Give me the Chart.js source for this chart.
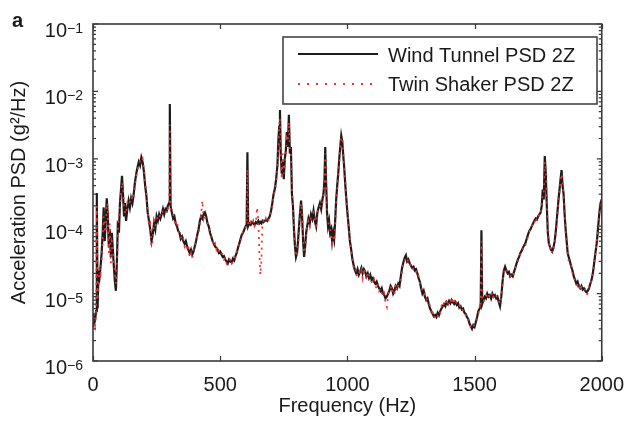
<!DOCTYPE html>
<html lang="en">
<head>
<meta charset="UTF-8">
<title>PSD comparison</title>
<script src="https://cdn.jsdelivr.net/npm/chart.js"></script>
<style>
    body { margin: 0; padding: 0; background: #fff; }
    #wrap { position: relative; width: 636px; height: 434px; }
</style>
</head>
<body>
<div id="wrap">
    <canvas id="psdChart" width="636" height="434"></canvas>
</div>
<script>
// frequency points (Hz)
const freq = [
    0, 4, 8, 12, 15, 18, 22, 26, 30, 34, 38, 42, 46, 50, 54, 58, 62, 66, 70, 74, 78, 82, 86, 90, 94, 98,
    102, 106, 110, 114, 118, 122, 126, 130, 135, 140, 145, 150, 155, 160, 165, 170, 175, 180, 185, 190, 195,
    200, 205, 210, 215, 220, 225, 230, 235, 240, 245, 250, 255, 260, 265, 270, 275, 280, 285, 290, 294, 299,
    302, 305, 310, 315, 320, 325, 330, 335, 340, 345, 350, 355, 360, 365, 370, 375, 380, 385, 390, 395,
    400, 405, 410, 415, 420, 425, 430, 435, 440, 445, 450, 455, 460, 465, 470, 475, 480, 485, 490, 495,
    500, 505, 510, 515, 520, 525, 530, 535, 540, 545, 550, 555, 560, 565, 570, 575, 580, 585, 590, 595,
    600, 604, 607, 610, 615, 620, 625, 630, 635, 640, 645, 650, 654, 658, 662, 666, 670, 675, 680, 685, 690, 695,
    700, 705, 710, 715, 720, 725, 729, 732, 735, 738, 742, 746, 750, 754, 758, 762, 766, 770, 774, 778, 782, 786, 790, 794, 798,
    802, 806, 810, 814, 818, 822, 826, 830, 834, 838, 842, 847, 852, 857, 862, 867, 872, 877, 882, 887, 892, 897,
    902, 906, 910, 913, 916, 920, 924, 928, 932, 936, 940, 944, 948, 952, 956, 960, 964, 968, 972, 976, 980, 984, 988, 992, 996,
    1000, 1005, 1010, 1015, 1020, 1025, 1030, 1035, 1040, 1045, 1050, 1055, 1060, 1065, 1070, 1075, 1080, 1085, 1090, 1095,
    1100, 1105, 1110, 1115, 1120, 1125, 1130, 1135, 1140, 1145, 1150, 1155, 1160, 1165, 1170, 1175, 1180, 1185, 1190, 1195,
    1200, 1205, 1210, 1215, 1220, 1225, 1230, 1235, 1240, 1245, 1250, 1255, 1260, 1265, 1270, 1275, 1280, 1285, 1290, 1295,
    1300, 1305, 1310, 1315, 1320, 1325, 1330, 1335, 1340, 1345, 1350, 1355, 1360, 1365, 1370, 1375, 1380, 1385, 1390, 1395,
    1400, 1405, 1410, 1415, 1420, 1425, 1430, 1435, 1440, 1445, 1450, 1455, 1460, 1465, 1470, 1475, 1480, 1485, 1490, 1495,
    1500, 1505, 1510, 1515, 1520, 1524, 1527, 1530, 1535, 1540, 1545, 1550, 1555, 1560, 1565, 1570, 1575, 1580, 1585, 1590, 1595,
    1600, 1605, 1610, 1615, 1620, 1625, 1630, 1635, 1640, 1645, 1650, 1655, 1660, 1665, 1670, 1675, 1680, 1685, 1690, 1695,
    1700, 1705, 1710, 1715, 1720, 1725, 1730, 1735, 1740, 1745, 1750, 1755, 1760, 1764, 1768, 1772, 1776, 1780, 1784, 1788, 1792, 1796,
    1800, 1805, 1810, 1815, 1820, 1825, 1830, 1834, 1838, 1842, 1846, 1850, 1854, 1858, 1862, 1866, 1870, 1875, 1880, 1885, 1890, 1895,
    1900, 1905, 1910, 1915, 1920, 1925, 1930, 1935, 1940, 1945, 1950, 1955, 1960, 1965, 1970, 1975, 1980, 1985, 1990, 1995, 2000
];

// Wind Tunnel PSD 2Z (g^2/Hz)
const windTunnel = [
    5.0e-6, 3.6e-6, 4.0e-6, 5.5e-6, 3.1e-4, 6.0e-6, 2.2e-5, 1.8e-5, 2.6e-5, 4.0e-5, 8.0e-5, 1.9e-4, 6.0e-5, 1.2e-4, 2.6e-4, 1.5e-4, 5.0e-5, 9.0e-5, 3.5e-5, 8.0e-5, 4.5e-5, 2.5e-5, 1.5e-5, 1.1e-5, 3.0e-5, 1.2e-4,
    8.0e-5, 2.2e-4, 3.5e-4, 5.6e-4, 3.0e-4, 1.4e-4, 2.2e-4, 1.2e-4, 1.8e-4, 2.4e-4, 1.9e-4, 2.6e-4, 2.2e-4, 3.0e-4, 4.5e-4, 6.0e-4, 7.5e-4, 9.0e-4, 8.0e-4, 1.05e-3, 9.0e-4,
    6.5e-4, 4.0e-4, 2.8e-4, 1.6e-4, 1.2e-4, 9.0e-5, 6.0e-5, 7.5e-5, 1.1e-4, 9.0e-5, 1.4e-4, 1.2e-4, 1.5e-4, 1.3e-4, 1.5e-4, 1.8e-4, 1.5e-4, 1.8e-4, 1.7e-4, 2.0e-4, 2.2e-4,
    6.5e-3, 2.0e-4, 1.6e-4, 1.3e-4, 1.4e-4, 1.1e-4, 1.0e-4, 8.5e-5, 8.0e-5, 6.5e-5, 7.0e-5, 6.0e-5, 5.5e-5, 6.0e-5, 5.0e-5, 4.5e-5, 4.0e-5, 4.5e-5, 3.8e-5, 4.2e-5,
    5.0e-5, 6.0e-5, 7.5e-5, 9.0e-5, 1.2e-4, 1.4e-4, 1.3e-4, 1.5e-4, 1.6e-4, 1.4e-4, 1.1e-4, 1.0e-4, 8.0e-5, 7.0e-5, 6.0e-5, 5.5e-5, 5.0e-5, 4.8e-5, 4.5e-5, 4.0e-5,
    4.2e-5, 3.8e-5, 3.5e-5, 3.6e-5, 3.2e-5, 3.0e-5, 2.8e-5, 3.2e-5, 3.0e-5, 2.9e-5, 3.3e-5, 3.1e-5, 3.6e-5, 4.0e-5, 4.8e-5, 5.5e-5, 6.5e-5, 7.5e-5, 8.0e-5, 9.0e-5,
    1.0e-4, 1.05e-4, 1.25e-3, 1.0e-4, 1.1e-4, 1.05e-4, 1.15e-4, 1.1e-4, 1.05e-4, 1.15e-4, 1.1e-4, 1.2e-4, 1.1e-4, 1.15e-4, 1.1e-4, 1.2e-4, 1.15e-4, 1.2e-4, 1.25e-4, 1.2e-4, 1.3e-4, 1.4e-4,
    1.7e-4, 2.2e-4, 3.0e-4, 3.6e-4, 5.0e-4, 8.0e-4, 2.0e-3, 3.0e-3, 5.3e-3, 1.2e-3, 6.0e-4, 9.0e-4, 5.0e-4, 1.0e-3, 1.3e-3, 2.5e-3, 1.5e-3, 4.5e-3, 1.2e-3, 1.5e-3, 3.0e-4, 2.0e-4, 9.0e-5, 5.0e-5, 3.5e-5,
    4.0e-5, 6.0e-5, 1.0e-4, 1.6e-4, 2.4e-4, 1.4e-4, 6.0e-5, 3.5e-5, 5.0e-5, 8.0e-5, 1.0e-4, 1.3e-4, 1.1e-4, 1.5e-4, 1.3e-4, 1.7e-4, 1.2e-4, 1.0e-4, 1.6e-4, 1.9e-4, 2.2e-4, 1.8e-4,
    2.5e-4, 3.0e-4, 5.0e-4, 1.5e-3, 5.0e-4, 1.6e-4, 1.0e-4, 1.2e-4, 8.0e-5, 9.0e-5, 6.0e-5, 8.0e-5, 6.5e-5, 1.2e-4, 2.5e-4, 4.0e-4, 6.0e-4, 1.0e-3, 1.5e-3, 2.2e-3, 1.8e-3, 1.1e-3, 7.0e-4, 4.0e-4, 2.5e-4,
    1.6e-4, 1.0e-4, 6.0e-5, 4.5e-5, 3.2e-5, 2.6e-5, 2.2e-5, 2.0e-5, 2.3e-5, 1.9e-5, 2.1e-5, 2.4e-5, 2.0e-5, 2.3e-5, 2.1e-5, 1.8e-5, 2.0e-5, 1.7e-5, 1.9e-5, 1.6e-5,
    1.7e-5, 1.5e-5, 1.4e-5, 1.5e-5, 1.3e-5, 1.2e-5, 1.1e-5, 1.2e-5, 1.0e-5, 9.5e-6, 8.5e-6, 9.0e-6, 1.0e-5, 1.1e-5, 1.3e-5, 1.2e-5, 1.0e-5, 1.1e-5, 1.3e-5, 1.2e-5,
    1.4e-5, 1.3e-5, 1.8e-5, 2.4e-5, 2.9e-5, 3.4e-5, 3.7e-5, 3.0e-5, 3.2e-5, 2.8e-5, 2.6e-5, 2.4e-5, 2.5e-5, 2.2e-5, 2.3e-5, 2.0e-5, 1.7e-5, 1.5e-5, 1.2e-5, 1.0e-5,
    1.1e-5, 9.0e-6, 8.0e-6, 8.5e-6, 7.0e-6, 6.0e-6, 5.5e-6, 5.0e-6, 4.6e-6, 4.8e-6, 4.5e-6, 5.2e-6, 4.8e-6, 5.5e-6, 6.0e-6, 6.5e-6, 7.0e-6, 6.5e-6, 7.5e-6, 7.0e-6,
    7.8e-6, 7.2e-6, 8.0e-6, 7.4e-6, 7.0e-6, 7.5e-6, 6.8e-6, 7.2e-6, 6.2e-6, 6.5e-6, 5.8e-6, 6.0e-6, 5.2e-6, 5.0e-6, 4.5e-6, 4.2e-6, 3.6e-6, 3.3e-6, 3.0e-6, 3.4e-6,
    3.2e-6, 3.8e-6, 4.5e-6, 5.5e-6, 6.0e-6, 6.5e-6, 8.7e-5, 7.0e-6, 8.0e-6, 9.0e-6, 8.5e-6, 1.0e-5, 9.0e-6, 9.5e-6, 8.5e-6, 1.0e-5, 9.0e-6, 9.5e-6, 8.5e-6, 9.0e-6, 7.5e-6,
    6.5e-6, 9.0e-6, 1.5e-5, 2.2e-5, 2.5e-5, 2.2e-5, 2.0e-5, 2.1e-5, 1.8e-5, 1.9e-5, 1.8e-5, 2.1e-5, 2.4e-5, 2.8e-5, 3.2e-5, 3.5e-5, 4.0e-5, 4.3e-5, 4.8e-5, 5.2e-5,
    5.6e-5, 6.5e-5, 7.5e-5, 8.5e-5, 9.0e-5, 1.0e-4, 1.1e-4, 1.2e-4, 1.3e-4, 1.25e-4, 1.4e-4, 1.5e-4, 1.6e-4, 2.0e-4, 3.5e-4, 2.5e-4, 1.1e-3, 6.0e-4, 2.0e-4, 8.0e-5, 5.6e-5, 5.0e-5,
    4.5e-5, 4.2e-5, 4.8e-5, 6.0e-5, 9.0e-5, 1.5e-4, 2.5e-4, 3.5e-4, 5.0e-4, 6.8e-4, 4.0e-4, 3.0e-4, 1.5e-4, 9.0e-5, 6.0e-5, 4.0e-5, 3.5e-5, 3.0e-5, 2.5e-5, 2.2e-5, 1.8e-5, 1.6e-5,
    1.4e-5, 1.5e-5, 1.3e-5, 1.2e-5, 1.3e-5, 1.15e-5, 1.2e-5, 1.1e-5, 1.05e-5, 1.1e-5, 1.2e-5, 1.4e-5, 1.6e-5, 2.0e-5, 2.8e-5, 4.0e-5, 5.5e-5, 9.0e-5, 1.5e-4, 2.2e-4, 2.5e-4
];

// Twin Shaker PSD 2Z (g^2/Hz)
const twinShaker = [
    4.5e-6, 4.2e-6, 3.4e-6, 5.0e-6, 2.0e-4, 8.0e-6, 1.6e-5, 2.4e-5, 2.0e-5, 3.2e-5, 6.0e-5, 1.4e-4, 9.0e-5, 8.0e-5, 2.2e-4, 2.0e-4, 4.0e-5, 1.1e-4, 2.8e-5, 6.0e-5, 5.5e-5, 3.0e-5, 2.0e-5, 1.4e-5, 2.5e-5, 9.0e-5,
    1.5e-4, 1.8e-4, 3.0e-4, 4.5e-4, 4.0e-4, 1.9e-4, 1.6e-4, 1.5e-4, 2.2e-4, 2.0e-4, 2.3e-4, 2.2e-4, 2.8e-4, 2.6e-4, 4.0e-4, 5.5e-4, 7.0e-4, 8.0e-4, 9.5e-4, 9.0e-4, 1.0e-3,
    7.0e-4, 4.5e-4, 3.0e-4, 1.8e-4, 1.0e-4, 1.1e-4, 5.0e-5, 6.0e-5, 1.2e-4, 1.0e-4, 1.2e-4, 1.4e-4, 1.3e-4, 1.5e-4, 1.7e-4, 1.6e-4, 1.6e-4, 1.5e-4, 1.9e-4, 1.8e-4, 2.0e-4,
    3.2e-3, 1.8e-4, 1.7e-4, 1.5e-4, 1.2e-4, 1.0e-4, 1.2e-4, 9.0e-5, 7.0e-5, 7.0e-5, 6.0e-5, 6.5e-5, 5.0e-5, 5.5e-5, 4.5e-5, 5.0e-5, 3.5e-5, 4.0e-5, 3.3e-5, 4.5e-5,
    4.5e-5, 6.5e-5, 7.0e-5, 8.0e-5, 1.0e-4, 1.5e-4, 2.4e-4, 1.3e-4, 1.5e-4, 1.2e-4, 1.2e-4, 9.0e-5, 8.5e-5, 6.5e-5, 6.5e-5, 5.0e-5, 5.5e-5, 4.5e-5, 5.0e-5, 4.2e-5,
    3.8e-5, 4.0e-5, 3.8e-5, 3.2e-5, 3.4e-5, 2.8e-5, 3.0e-5, 2.9e-5, 3.3e-5, 2.8e-5, 3.0e-5, 3.5e-5, 3.4e-5, 4.2e-5, 4.5e-5, 6.0e-5, 6.0e-5, 7.0e-5, 8.5e-5, 9.5e-5,
    9.5e-5, 1.1e-4, 7.0e-4, 1.1e-4, 1.0e-4, 1.15e-4, 1.05e-4, 1.2e-4, 1.0e-4, 1.1e-4, 1.9e-4, 1.2e-4, 4.0e-5, 1.9e-5, 3.0e-5, 1.1e-4, 1.2e-4, 1.1e-4, 1.3e-4, 1.15e-4, 1.25e-4, 1.5e-4,
    1.6e-4, 2.0e-4, 2.8e-4, 3.4e-4, 4.5e-4, 7.0e-4, 1.5e-3, 3.2e-3, 4.0e-3, 1.5e-3, 5.0e-4, 1.2e-3, 6.0e-4, 9.0e-4, 1.1e-3, 2.0e-3, 1.8e-3, 3.5e-3, 1.4e-3, 1.2e-3, 3.5e-4, 1.8e-4, 1.0e-4, 6.0e-5, 4.0e-5,
    3.5e-5, 5.0e-5, 8.0e-5, 1.4e-4, 2.2e-4, 1.6e-4, 7.0e-5, 4.0e-5, 4.5e-5, 7.0e-5, 1.1e-4, 1.2e-4, 1.0e-4, 1.4e-4, 1.5e-4, 1.6e-4, 1.3e-4, 9.0e-5, 1.5e-4, 2.0e-4, 2.0e-4, 1.9e-4,
    2.3e-4, 2.8e-4, 4.5e-4, 1.2e-3, 6.0e-4, 1.8e-4, 1.2e-4, 1.0e-4, 9.0e-5, 8.0e-5, 5.0e-5, 7.0e-5, 6.0e-5, 1.0e-4, 2.2e-4, 3.5e-4, 5.5e-4, 9.0e-4, 1.6e-3, 2.0e-3, 2.1e-3, 1.2e-3, 6.0e-4, 4.5e-4, 2.2e-4,
    1.8e-4, 9.0e-5, 7.0e-5, 4.2e-5, 3.5e-5, 2.4e-5, 2.5e-5, 1.8e-5, 2.1e-5, 2.2e-5, 1.9e-5, 2.2e-5, 1.7e-5, 2.4e-5, 2.0e-5, 1.6e-5, 2.1e-5, 1.9e-5, 1.7e-5, 1.5e-5,
    1.4e-5, 1.6e-5, 1.3e-5, 1.2e-5, 1.4e-5, 1.1e-5, 1.2e-5, 1.0e-5, 9.0e-6, 1.0e-5, 7.0e-6, 6.3e-6, 9.0e-6, 1.2e-5, 1.2e-5, 1.3e-5, 9.5e-6, 1.0e-5, 1.4e-5, 1.1e-5,
    1.3e-5, 1.4e-5, 1.6e-5, 2.2e-5, 3.0e-5, 3.1e-5, 3.5e-5, 3.3e-5, 2.9e-5, 3.0e-5, 2.5e-5, 2.6e-5, 2.2e-5, 2.3e-5, 2.1e-5, 2.2e-5, 1.8e-5, 1.4e-5, 1.3e-5, 1.1e-5,
    9.5e-6, 1.0e-5, 8.5e-6, 7.5e-6, 7.5e-6, 6.5e-6, 5.0e-6, 5.5e-6, 4.3e-6, 5.0e-6, 4.8e-6, 4.6e-6, 5.5e-6, 5.2e-6, 6.5e-6, 6.0e-6, 7.5e-6, 7.0e-6, 8.5e-6, 6.5e-6,
    8.0e-6, 7.5e-6, 8.8e-6, 7.0e-6, 7.8e-6, 8.5e-6, 7.0e-6, 6.5e-6, 6.8e-6, 6.0e-6, 6.2e-6, 5.5e-6, 5.6e-6, 4.8e-6, 4.9e-6, 4.0e-6, 3.8e-6, 3.1e-6, 3.3e-6, 3.2e-6,
    3.5e-6, 3.6e-6, 4.2e-6, 5.0e-6, 6.5e-6, 6.0e-6, 6.0e-5, 7.5e-6, 7.5e-6, 8.5e-6, 9.5e-6, 9.0e-6, 1.0e-5, 8.5e-6, 9.0e-6, 1.05e-5, 8.5e-6, 9.0e-6, 9.5e-6, 8.0e-6, 8.0e-6,
    7.0e-6, 8.5e-6, 1.4e-5, 2.0e-5, 2.4e-5, 2.3e-5, 2.1e-5, 1.9e-5, 1.9e-5, 1.7e-5, 1.9e-5, 2.0e-5, 2.5e-5, 2.7e-5, 3.0e-5, 3.7e-5, 3.8e-5, 4.5e-5, 4.6e-5, 5.5e-5,
    5.3e-5, 6.0e-5, 7.0e-5, 8.0e-5, 9.5e-5, 9.5e-5, 1.15e-4, 1.1e-4, 1.35e-4, 1.2e-4, 1.3e-4, 1.55e-4, 1.5e-4, 2.2e-4, 3.0e-4, 3.0e-4, 9.0e-4, 7.0e-4, 2.5e-4, 9.0e-5, 6.0e-5, 4.5e-5,
    5.0e-5, 4.0e-5, 4.5e-5, 5.5e-5, 8.0e-5, 1.3e-4, 2.8e-4, 3.2e-4, 4.5e-4, 6.0e-4, 5.0e-4, 2.8e-4, 1.8e-4, 8.0e-5, 7.0e-5, 4.5e-5, 3.0e-5, 2.8e-5, 2.7e-5, 2.0e-5, 1.9e-5, 1.5e-5,
    1.5e-5, 1.3e-5, 1.4e-5, 1.1e-5, 1.25e-5, 1.2e-5, 1.1e-5, 1.15e-5, 9.5e-6, 1.0e-5, 1.3e-5, 1.3e-5, 1.7e-5, 1.9e-5, 3.0e-5, 3.8e-5, 6.0e-5, 8.5e-5, 1.4e-4, 2.4e-4, 2.3e-4
];

const seriesLabels = ['Wind Tunnel PSD 2Z', 'Twin Shaker PSD 2Z'];
const xTicks = [0, 500, 1000, 1500, 2000];
const yTicks = [1e-6, 1e-5, 1e-4, 1e-3, 1e-2, 1e-1];
const yTickExponents = ['\u22126', '\u22125', '\u22124', '\u22123', '\u22122', '\u22121'];

const FONT = 'Liberation Sans, Arial, sans-serif';
const TEXT = '#1a1a1a';
const BLACK = '#1c1c1c';
const RED = 'rgb(238, 48, 48)';

// frame, inward ticks, y labels with superscripts, legend and panel letter
const decorPlugin = {
    id: 'decor',
    afterDraw(chart) {
        const ctx = chart.ctx;
        const area = chart.chartArea;
        const xs = chart.scales.x;
        const ys = chart.scales.y;
        ctx.save();

        // axis frame
        ctx.strokeStyle = '#3a3a3a';
        ctx.lineWidth = 1.6;
        ctx.strokeRect(area.left, area.top, area.right - area.left, area.bottom - area.top);

        // x ticks (inward, bottom and top)
        ctx.lineWidth = 1.2;
        xTicks.forEach(v => {
            const px = Math.round(xs.getPixelForValue(v)) + 0.5;
            ctx.beginPath();
            ctx.moveTo(px, area.bottom); ctx.lineTo(px, area.bottom - 5);
            ctx.moveTo(px, area.top); ctx.lineTo(px, area.top + 5);
            ctx.stroke();
        });

        // y ticks: majors + log minors on both sides
        for (let i = 0; i < yTicks.length; i++) {
            const dec = yTicks[i];
            const py = ys.getPixelForValue(dec);
            ctx.beginPath();
            ctx.moveTo(area.left, py); ctx.lineTo(area.left + 5, py);
            ctx.moveTo(area.right, py); ctx.lineTo(area.right - 5, py);
            ctx.stroke();
            if (i < yTicks.length - 1) {
                for (let m = 2; m <= 9; m++) {
                    const my = ys.getPixelForValue(dec * m);
                    ctx.beginPath();
                    ctx.moveTo(area.left, my); ctx.lineTo(area.left + 3, my);
                    ctx.moveTo(area.right, my); ctx.lineTo(area.right - 3, my);
                    ctx.stroke();
                }
            }
        }

        // y tick labels 10^k
        ctx.fillStyle = TEXT;
        ctx.textBaseline = 'alphabetic';
        yTicks.forEach((v, i) => {
            const py = ys.getPixelForValue(v);
            const rightEdge = area.left - 10;
            ctx.font = '14px ' + FONT;
            const ew = ctx.measureText(yTickExponents[i]).width;
            ctx.textAlign = 'left';
            ctx.fillText(yTickExponents[i], rightEdge - ew, py + 9);
            ctx.font = '20px ' + FONT;
            ctx.textAlign = 'right';
            ctx.fillText('10', rightEdge - ew, py + 13);
        });

        // legend
        const lx = 283, ly = 37, lw = 314, lh = 67;
        ctx.fillStyle = '#fff';
        ctx.fillRect(lx, ly, lw, lh);
        ctx.strokeStyle = '#444';
        ctx.lineWidth = 1.6;
        ctx.strokeRect(lx, ly, lw, lh);

        ctx.lineWidth = 1.8;
        ctx.strokeStyle = BLACK;
        ctx.beginPath();
        ctx.moveTo(298, 54); ctx.lineTo(378, 54);
        ctx.stroke();
        ctx.strokeStyle = RED;
        ctx.setLineDash([2, 7]);
        ctx.beginPath();
        ctx.moveTo(298, 84); ctx.lineTo(378, 84);
        ctx.stroke();
        ctx.setLineDash([]);

        ctx.fillStyle = TEXT;
        ctx.font = '20px ' + FONT;
        ctx.textAlign = 'left';
        ctx.fillText(seriesLabels[0], 388, 62);
        ctx.fillText(seriesLabels[1], 388, 91);

        // panel letter
        ctx.font = 'bold 20px ' + FONT;
        ctx.fillText('a', 12, 27);

        ctx.restore();
    }
};

const ctx = document.getElementById('psdChart').getContext('2d');
new Chart(ctx, {
    type: 'line',
    data: {
        datasets: [
            {
                label: seriesLabels[0],
                data: freq.map((f, i) => ({x: f, y: windTunnel[i]})),
                borderColor: BLACK,
                borderWidth: 2.2,
                pointRadius: 0,
                tension: 0,
                order: 2
            },
            {
                label: seriesLabels[1],
                data: freq.map((f, i) => ({x: f, y: twinShaker[i]})),
                borderColor: RED,
                borderWidth: 1.7,
                borderDash: [2, 5],
                pointRadius: 0,
                tension: 0,
                order: 1
            }
        ]
    },
    options: {
        responsive: false,
        animation: false,
        layout: {padding: {top: 24, right: 26, left: 0, bottom: 0}},
        plugins: {legend: {display: false}, tooltip: {enabled: false}},
        scales: {
            x: {
                type: 'linear',
                min: 0,
                max: 2000,
                afterBuildTicks: s => { s.ticks = xTicks.map(v => ({value: v})); },
                ticks: {color: TEXT, font: {family: FONT, size: 20}, padding: 12, maxRotation: 0,
                        callback: v => String(v)},
                grid: {display: false, drawTicks: false},
                border: {display: false},
                title: {display: true, text: 'Frequency (Hz)', color: TEXT, font: {family: FONT, size: 20}, padding: {top: 0, bottom: 16}},
                afterFit: s => { s.height = 73; }
            },
            y: {
                type: 'logarithmic',
                min: 1e-6,
                max: 1e-1,
                ticks: {display: false},
                grid: {display: false, drawTicks: false},
                border: {display: false},
                title: {display: true, text: 'Acceleration PSD (g\u00b2/Hz)', color: TEXT, font: {family: FONT, size: 20}, padding: {top: 7, bottom: 0}},
                afterFit: s => { s.width = 93; }
            }
        }
    },
    plugins: [decorPlugin]
});
</script>
</body>
</html>
